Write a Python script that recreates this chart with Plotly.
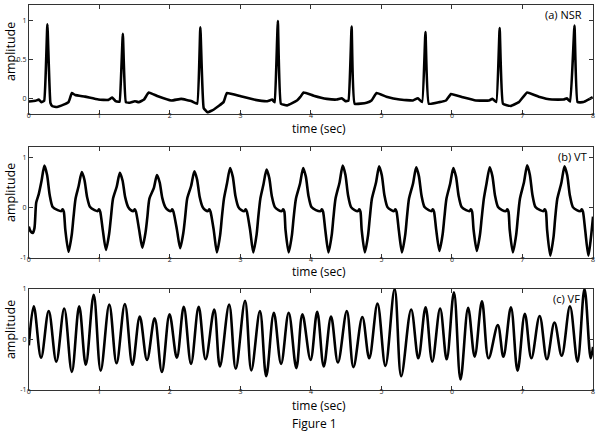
import plotly.graph_objects as go

# ---------------- data ----------------
ticks_x = [0, 1, 2, 3, 4, 5, 6, 7, 8]

nsr_t = [0.0, 0.094, 0.141, 0.178, 0.218, 0.263, 0.306, 0.335, 0.399, 0.493, 0.563, 0.610, 0.657, 0.798, 0.986,
         1.127, 1.183, 1.230, 1.270, 1.288, 1.333, 1.376, 1.432, 1.502, 1.559, 1.634, 1.700, 1.831, 2.019, 2.160, 2.310,
         2.387, 2.432, 2.479, 2.535, 2.629, 2.761, 2.808, 3.005, 3.192, 3.380, 3.451, 3.478, 3.488, 3.531, 3.574, 3.662,
         3.803, 3.850, 3.897, 4.038, 4.225, 4.366, 4.437, 4.490, 4.532, 4.577, 4.620, 4.789, 4.859, 4.930, 5.070,
         5.258, 5.446, 5.516, 5.577, 5.624, 5.671, 5.822, 5.915, 5.986, 6.150, 6.338, 6.526, 6.573, 6.629, 6.676,
         6.723, 6.831, 6.948, 7.066, 7.230, 7.418, 7.582, 7.629, 7.676, 7.737, 7.780, 7.864, 7.934, 7.995]
nsr_a = [-0.042, -0.033, -0.017, -0.05, -0.033, 0.958, -0.06, -0.104, -0.113, -0.083, -0.05, 0.067, 0.042, 0.021, -0.017,
         -0.021, 0.008, -0.038, -0.045, -0.042, 0.833, -0.05, -0.058, -0.038, -0.05, -0.017, 0.075, 0.025, -0.029, -0.008, -0.038,
         -0.071, 0.917, -0.125, -0.183, -0.142, -0.05, 0.067, 0.025, -0.017, -0.038, -0.017, -0.045, -0.05, 1.0, -0.071, -0.092,
         -0.029, 0.017, 0.075, 0.033, -0.008, -0.017, 0.0, -0.038, -0.03, 0.929, -0.071, -0.058, -0.029, 0.067, 0.021,
         -0.017, -0.029, 0.0, -0.05, 0.858, -0.071, -0.05, -0.029, 0.054, 0.013, -0.029, -0.029, -0.008, -0.05, 0.908,
         -0.071, -0.1, -0.05, 0.075, 0.021, -0.017, -0.017, 0.0, -0.042, 0.942, -0.05, -0.05, -0.017, 0.013]

vt_t = [0.0, 0.023, 0.056, 0.08, 0.105, 0.141, 0.18, 0.221, 0.259, 0.296, 0.339, 0.41, 0.461, 0.479, 0.496, 0.518,
        0.563, 0.608, 0.633, 0.663, 0.706, 0.751, 0.789, 0.826, 0.869, 0.932, 0.977, 0.995, 1.012, 1.049,
        1.094, 1.139, 1.164, 1.194, 1.246, 1.291, 1.329, 1.366, 1.409, 1.446, 1.484, 1.502, 1.519, 1.565,
        1.610, 1.655, 1.680, 1.710, 1.772, 1.817, 1.855, 1.892, 1.935, 1.975, 2.015, 2.033, 2.050, 2.101,
        2.146, 2.191, 2.216, 2.246, 2.302, 2.347, 2.385, 2.422, 2.465, 2.503, 2.541, 2.559, 2.576, 2.622,
        2.667, 2.712, 2.737, 2.767, 2.809, 2.854, 2.892, 2.929, 2.972, 3.015, 3.057, 3.075, 3.092, 3.138,
        3.183, 3.228, 3.253, 3.283, 3.326, 3.371, 3.409, 3.446, 3.489, 3.54, 3.588, 3.606, 3.623, 3.640,
        3.685, 3.730, 3.755, 3.788, 3.845, 3.89, 3.928, 3.965, 4.008, 4.07, 4.137, 4.155, 4.172, 4.204,
        4.249, 4.294, 4.319, 4.349, 4.406, 4.451, 4.489, 4.526, 4.569, 4.62, 4.667, 4.685, 4.702, 4.720,
        4.765, 4.810, 4.835, 4.865, 4.922, 4.967, 5.005, 5.042, 5.085, 5.14, 5.179, 5.197, 5.214, 5.246,
        5.291, 5.336, 5.361, 5.391, 5.448, 5.493, 5.531, 5.568, 5.611, 5.67, 5.710, 5.728, 5.745, 5.777,
        5.822, 5.867, 5.892, 5.922, 5.974, 6.019, 6.057, 6.094, 6.137, 6.2, 6.250, 6.268, 6.285, 6.307,
        6.352, 6.397, 6.422, 6.452, 6.490, 6.535, 6.573, 6.610, 6.653, 6.71, 6.766, 6.784, 6.801, 6.819,
        6.864, 6.909, 6.934, 6.964, 7.021, 7.066, 7.104, 7.141, 7.184, 7.25, 7.297, 7.315, 7.332, 7.349,
        7.394, 7.439, 7.464, 7.494, 7.551, 7.596, 7.634, 7.671, 7.714, 7.77, 7.822, 7.840, 7.857, 7.889,
        7.934, 7.97, 8.0]
vt_a = [-0.38, -0.47, -0.506, -0.41, 0.1, 0.27, 0.53, 0.838, 0.65, 0.25, 0.01, -0.05, -0.07, -0.035, -0.08, -0.45,
        -0.883, -0.547, -0.2, 0.18, 0.425, 0.708, 0.552, 0.212, 0.01, -0.05, -0.07, -0.035, -0.08, -0.45,
        -0.844, -0.523, -0.2, 0.18, 0.417, 0.695, 0.542, 0.209, 0.01, -0.05, -0.07, -0.035, -0.08, -0.45,
        -0.799, -0.495, -0.2, 0.18, 0.389, 0.649, 0.506, 0.195, 0.01, -0.05, -0.07, -0.035, -0.08, -0.45,
        -0.812, -0.503, -0.2, 0.18, 0.436, 0.727, 0.567, 0.218, 0.01, -0.05, -0.07, -0.035, -0.08, -0.45,
        -0.896, -0.556, -0.2, 0.18, 0.475, 0.792, 0.618, 0.238, 0.01, -0.05, -0.07, -0.035, -0.08, -0.45,
        -0.896, -0.556, -0.2, 0.18, 0.456, 0.76, 0.593, 0.228, 0.01, -0.05, -0.07, -0.035, -0.08, -0.45,
        -0.896, -0.556, -0.2, 0.18, 0.475, 0.792, 0.618, 0.238, 0.01, -0.05, -0.07, -0.035, -0.08, -0.45,
        -0.896, -0.556, -0.2, 0.18, 0.503, 0.838, 0.654, 0.251, 0.01, -0.05, -0.07, -0.035, -0.08, -0.45,
        -0.896, -0.556, -0.2, 0.18, 0.495, 0.825, 0.644, 0.248, 0.01, -0.05, -0.07, -0.035, -0.08, -0.45,
        -0.896, -0.556, -0.2, 0.18, 0.483, 0.805, 0.628, 0.242, 0.01, -0.05, -0.07, -0.035, -0.08, -0.45,
        -0.864, -0.536, -0.2, 0.18, 0.475, 0.792, 0.618, 0.238, 0.01, -0.05, -0.07, -0.035, -0.08, -0.45,
        -0.864, -0.536, -0.2, 0.18, 0.483, 0.805, 0.628, 0.242, 0.01, -0.05, -0.07, -0.035, -0.08, -0.45,
        -0.896, -0.556, -0.2, 0.18, 0.506, 0.844, 0.658, 0.253, 0.01, -0.05, -0.07, -0.035, -0.08, -0.45,
        -0.961, -0.596, -0.2, 0.18, 0.495, 0.825, 0.644, 0.248, 0.01, -0.05, -0.07, -0.035, -0.08, -0.45,
        -0.961, -0.6, -0.18]

vf_t = [0.0, 0.070, 0.174, 0.282, 0.390, 0.502, 0.610, 0.714, 0.808, 0.920, 1.019, 1.141, 1.244, 1.362, 1.469,
        1.573, 1.676, 1.784, 1.887, 1.995, 2.099, 2.197, 2.300, 2.408, 2.507, 2.629, 2.709, 2.840, 2.934, 3.066,
        3.155, 3.277, 3.366, 3.474, 3.577, 3.685, 3.793, 3.879, 3.995, 4.089, 4.182, 4.285, 4.383, 4.509, 4.603,
        4.729, 4.827, 4.944, 5.056, 5.187, 5.280, 5.421, 5.523, 5.626, 5.720, 5.832, 5.925, 6.028, 6.121, 6.229,
        6.322, 6.425, 6.519, 6.650, 6.729, 6.836, 6.930, 7.033, 7.126, 7.243, 7.346, 7.453, 7.556, 7.673, 7.780,
        7.879, 7.967, 8.0]
vf_a = [-0.116, 0.658, -0.361, 0.561, -0.439, 0.613, -0.645, 0.658, -0.503, 0.884, -0.619, 0.690, -0.471, 0.703, -0.503,
        0.452, -0.406, 0.419, -0.645, 0.497, -0.361, 0.645, -0.484, 0.645, -0.394, 0.594, -0.535, 0.690, -0.581, 0.768,
        -0.613, 0.561, -0.729, 0.529, -0.484, 0.529, -0.568, 0.497, -0.406, 0.548, -0.535, 0.452, -0.458, 0.561, -0.548,
        0.445, -0.374, 0.710, -0.523, 1.0, -0.729, 0.594, -0.374, 0.639, -0.439, 0.613, -0.394, 0.935, -0.794, 0.626,
        -0.342, 0.755, -0.374, 0.284, -0.342, 0.639, -0.619, 0.510, -0.374, 0.465, -0.394, 0.335, -0.323, 0.658, -0.439,
        1.0, -0.374, -0.148]

panel_labels = ["(a) NSR", "(b) VT", "(c) VF"]
y_ranges = [[-0.2, 1.2], [-1.0, 1.21], [-1.0, 1.0]]
y_ticks = [[0, 0.5, 1], [-1, 0, 1], [-1, 0, 1]]
y_ticktext = [["0", "0.5", "1"], ["-1", "0", "1"], ["-1", "0", "1"]]

# ---------------- figure ----------------
W, H = 600, 436
FONT = "Open Sans"

def py(v):
    return 1 - v / H

fig = go.Figure()
fig.add_trace(go.Scatter(x=nsr_t, y=nsr_a, mode="lines", line=dict(color="black", width=2.6, shape="spline", smoothing=0.3),
                         xaxis="x", yaxis="y", showlegend=False))
fig.add_trace(go.Scatter(x=vt_t, y=vt_a, mode="lines", line=dict(color="black", width=2.6, shape="spline", smoothing=0.7),
                         xaxis="x2", yaxis="y2", showlegend=False))
fig.add_trace(go.Scatter(x=vf_t, y=vf_a, mode="lines", line=dict(color="black", width=2.6, shape="spline", smoothing=1.0),
                         xaxis="x3", yaxis="y3", showlegend=False))

xdom = [27 / W, 595 / W]
ydoms = [[py(111), py(0.5)], [py(258), py(145)], [py(393), py(290)]]

axis_common = dict(showline=True, linecolor="#333", linewidth=1, mirror="ticks", ticks="inside", ticklen=4,
                   tickcolor="#333", showgrid=False, zeroline=False, tickfont=dict(size=7, color="#222", family=FONT))

layout = dict(width=W, height=H, margin=dict(l=0, r=0, t=0, b=0), paper_bgcolor="white", plot_bgcolor="white",
              showlegend=False)
for i in range(3):
    sx = "" if i == 0 else str(i + 1)
    layout["xaxis" + sx] = dict(domain=xdom, range=[0, 8], tickvals=ticks_x, anchor="y" + sx,
                                ticklabelstandoff=-5, **axis_common)
    layout["yaxis" + sx] = dict(domain=ydoms[i], range=y_ranges[i], tickvals=y_ticks[i], ticktext=y_ticktext[i],
                                anchor="x" + sx, **axis_common)
fig.update_layout(**layout)

ann = []
amp_y = [47, 191, 331]
time_y = [126, 272, 409]
lab_pos = [(585, 10), (590, 155), (583, 300)]
for i in range(3):
    ann.append(dict(text="amplitude", x=8 / W, y=py(amp_y[i]), xref="paper", yref="paper", showarrow=False,
                    textangle=-90, font=dict(size=12.5, family=FONT, color="black"), xanchor="center", yanchor="middle",
                    borderpad=0))
    ann.append(dict(text="time (sec)", x=319 / W, y=py(time_y[i]), xref="paper", yref="paper", showarrow=False,
                    font=dict(size=12, family=FONT, color="black"), xanchor="center", yanchor="middle", borderpad=0))
    ann.append(dict(text=panel_labels[i], x=lab_pos[i][0] / W, y=py(lab_pos[i][1]), xref="paper", yref="paper",
                    showarrow=False, font=dict(size=11, family=FONT, color="black"), xanchor="right", yanchor="middle",
                    borderpad=0))
ann.append(dict(text="Figure 1", x=314.5 / W, y=py(427), xref="paper", yref="paper", showarrow=False,
                font=dict(size=12, family=FONT, color="black"), xanchor="center", yanchor="middle", borderpad=0))
fig.update_layout(annotations=ann)

fig.write_html("out.html", config={"displayModeBar": False},
               post_script="document.body.style.margin='0px';")
